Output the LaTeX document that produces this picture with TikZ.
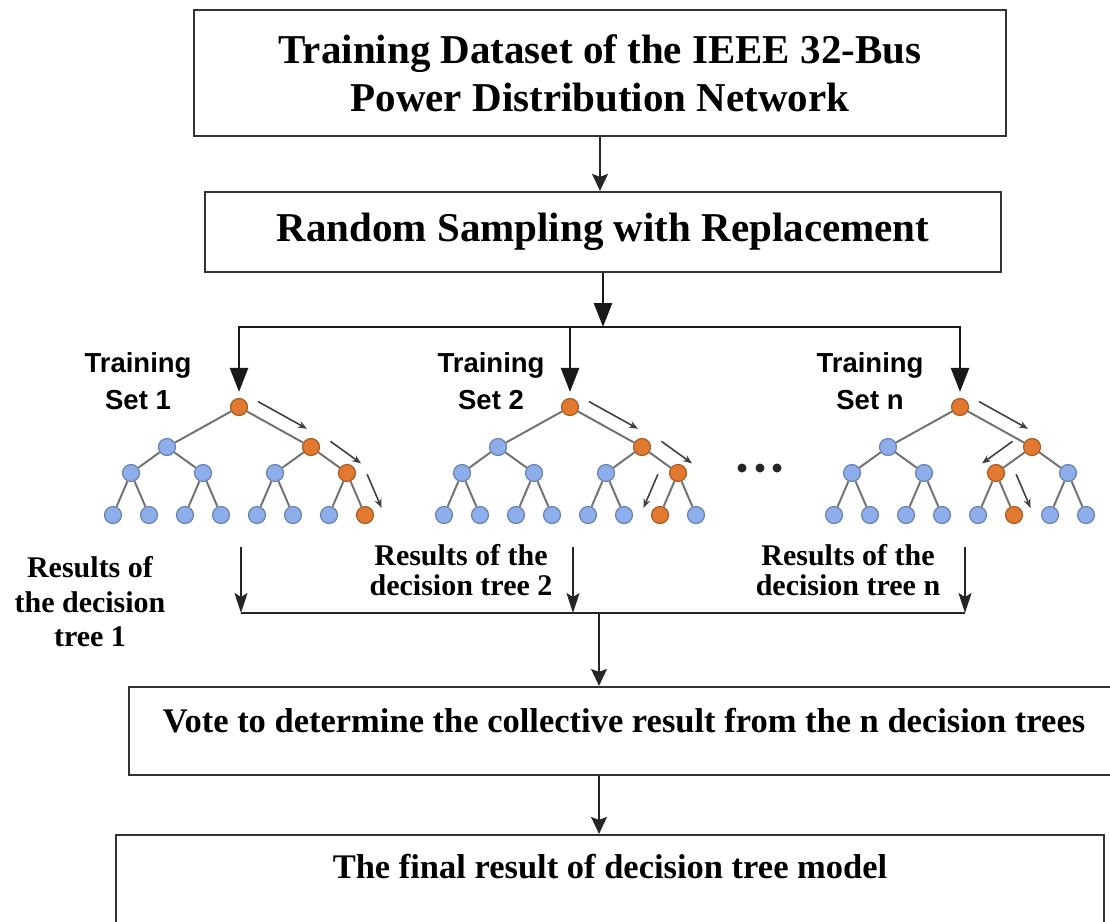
\documentclass[tikz,border=0pt]{standalone}
\usepackage{fontspec}
\setmainfont{Liberation Serif}
\newfontfamily\sanslabel{Liberation Sans}
\usepackage{tikz}
\usetikzlibrary{calc}
\usetikzlibrary{arrows.meta}

\definecolor{nodeblue}{RGB}{141,173,235}
\definecolor{pathorange}{RGB}{226,121,48}

% small arrow running beside the edge A--B (bit 1: right branch, 0: left branch)
\newcommand{\pathhint}[6]{%
  \pgfmathtruncatemacro\hintA{180*#3-90}%
  \pgfmathtruncatemacro\hintB{90-180*#3}%
  \coordinate (hs) at ($(#1.center)!#4!\hintA:(#2.center)$);
  \coordinate (ht) at ($(#2.center)!#4!\hintB:(#1.center)$);
  \draw[hint] ($(hs)!#5!(ht)$) -- ($(hs)!#6!(ht)$);
}

% one binary tree: name, root x, branch taken on level 1, 2, 3
\newcommand{\decisiontree}[5]{%
  \pgfmathtruncatemacro\selA{#3}%
  \pgfmathtruncatemacro\selB{2*#3+#4}%
  \pgfmathtruncatemacro\selC{4*#3+2*#4+#5}%
  \node[tnode, fill=pathorange, draw=pathorange!75!black] (#1-0-0) at (#2,407) {};
  \foreach \i in {0,1}{%
    \ifnum\i=\selA\def\tint{pathorange}\else\def\tint{nodeblue}\fi
    \node[tnode, fill=\tint, draw=\tint!75!black] (#1-1-\i) at (#2-72+144*\i,447) {};
    \draw[tedge] (#1-0-0) -- (#1-1-\i);
  }%
  \foreach \i in {0,...,3}{%
    \pgfmathtruncatemacro\parent{floor(\i/2)}%
    \ifnum\i=\selB\def\tint{pathorange}\else\def\tint{nodeblue}\fi
    \node[tnode, fill=\tint, draw=\tint!75!black] (#1-2-\i) at (#2-108+72*\i,473) {};
    \draw[tedge] (#1-1-\parent) -- (#1-2-\i);
  }%
  \foreach \i in {0,...,7}{%
    \pgfmathtruncatemacro\parent{floor(\i/2)}%
    \ifnum\i=\selC\def\tint{pathorange}\else\def\tint{nodeblue}\fi
    \node[tnode, fill=\tint, draw=\tint!75!black] (#1-3-\i) at (#2-126+36*\i,515) {};
    \draw[tedge] (#1-2-\parent) -- (#1-3-\i);
  }%
  \pathhint{#1-0-0}{#1-1-\selA}{#3}{14pt}{0.17}{0.85}%
  \pathhint{#1-1-\selA}{#1-2-\selB}{#4}{16pt}{0.28}{1.13}%
  \pathhint{#1-2-\selB}{#1-3-\selC}{#5}{18pt}{0.2}{1.0}%
}

\begin{document}
\begin{tikzpicture}[x=1pt, y=-1pt, >=Stealth]

  % ---------- Styling ----------
  \tikzset{
    stage/.style={draw=black!80, line width=2.2pt, fill=white, inner sep=0pt},
    flow/.style={draw=black!85, line width=1.5pt, -{Stealth[length=17pt,width=16pt,inset=3pt]}},
    feed/.style={draw=black!90, line width=2.5pt, -{Triangle[length=24pt,width=18pt]}},
    collect/.style={draw=black!85, line width=1.6pt, -{Stealth[length=20pt,width=13pt,inset=4pt]}},
    tnode/.style={circle, minimum size=17pt, inner sep=0pt, line width=1.2pt},
    tedge/.style={draw=black!55, line width=2pt},
    hint/.style={draw=black!75, line width=1.6pt, -{Stealth[length=9pt,width=7pt]}},
    setlabel/.style={font=\sanslabel\bfseries\fontsize{27.5}{37}\selectfont, align=center},
    reslabel/.style={font=\bfseries\fontsize{30}{30}\selectfont, align=center}
  }

  \useasboundingbox (0,0) rectangle (1110,921);
  \clip (0,0) rectangle (1110,921);

  % ---------- Upper stages ----------
  \node[stage, align=center, minimum width=812pt, minimum height=126pt,
        font=\bfseries\fontsize{41}{48}\selectfont] (data) at (600,73)
    {Training Dataset of the IEEE 32-Bus\\Power Distribution Network};
  \node[stage, minimum width=796pt, minimum height=80pt,
        font=\bfseries\fontsize{41}{48}\selectfont] (sampling) at (603,232)
    {Random Sampling with Replacement};

  \draw[flow] (data.south) -- (data.south |- sampling.north);

  % ---------- Bootstrap trees ----------
  \decisiontree{t1}{239}{1}{1}{1}
  \decisiontree{t2}{570}{1}{1}{0}
  \decisiontree{tn}{960}{1}{0}{1}

  \coordinate (fan) at (0,327);
  \draw[feed] (sampling.south) -- (sampling.south |- fan);
  \draw[feed, shorten >=6pt] (sampling.south |- fan) -| (t1-0-0);
  \draw[feed, shorten >=6pt] (sampling.south |- fan) -| (tn-0-0);
  \draw[feed, shorten >=6pt] (t2-0-0 |- fan) -- (t2-0-0);

  \node[setlabel] (set1) at (138,381) {Training\\Set 1};
  \node[setlabel] (set2) at (491,381) {Training\\Set 2};
  \node[setlabel] (setn) at (870,381) {Training\\Set n};

  \fill[black!85] (742,468) circle[radius=4.5pt] (760,468) circle[radius=4.5pt]
    (777,468) circle[radius=4.5pt];

  % ---------- Tree outputs ----------
  \coordinate (out1) at (241,547);
  \coordinate (out2) at (573,547);
  \coordinate (outn) at (965,547);
  \coordinate (join) at (599,613);

  \draw[collect] (out1) -- (out1 |- join);
  \draw[collect] (out2) -- (out2 |- join);
  \draw[collect] (outn) -- (outn |- join);
  \draw[draw=black!85, line width=1.8pt] (out1 |- join) -- (outn |- join);

  \node[reslabel, font=\bfseries\fontsize{30}{34.5}\selectfont] (res1) at (90,602)
    {Results of\\the decision\\tree 1};
  \node[reslabel] (res2) at (461,570) {Results of the\\decision tree 2};
  \node[reslabel] (resn) at (848,570) {Results of the\\decision tree n};

  % ---------- Voting ----------
  \node[stage, minimum width=990pt, text height=45pt, text depth=43pt, anchor=base,
        font=\bfseries\fontsize{34.5}{40}\selectfont] (vote) at (624,732)
    {Vote to determine the collective result from the n decision trees};
  \node[stage, minimum width=988pt, text height=43pt, text depth=82pt, anchor=base,
        font=\bfseries\fontsize{34.5}{40}\selectfont] (final) at (610,878)
    {The final result of decision tree model};

  \draw[flow] (join) -- (join |- vote.north);
  \draw[flow] (join |- vote.south) -- (join |- final.north);

\end{tikzpicture}
\end{document}
